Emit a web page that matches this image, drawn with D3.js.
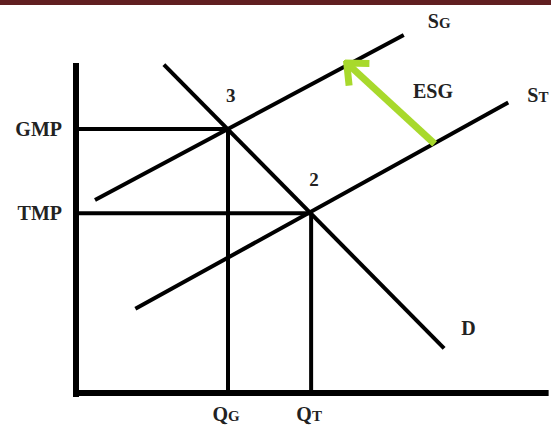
<!DOCTYPE html>
<html>
<head>
<meta charset="utf-8">
<script src="https://cdn.jsdelivr.net/npm/d3@7"></script>
<style>
  body { margin: 0; background: #fff; }
  text { font-family: "Liberation Serif", "DejaVu Serif", serif; font-weight: bold; fill: #222; }
</style>
</head>
<body>
<script>
// Price levels (government / target market price)
var priceLevels = [
  { label: "GMP", p: 80 },
  { label: "TMP", p: 54.5 }
];
// Quantity levels
var quantityLevels = [
  { main: "Q", sub: "G", q: 32 },
  { main: "Q", sub: "T", q: 49.5 }
];
// Curves: [q, p] end points
var curveSG = [[4, 58.5], [69, 108.5]];
var curveST = [[12.5, 25.5], [91, 88]];
var curveD  = [[18.5, 99.5], [77.5, 13.5]];
// Shift arrow from ST up to SG
var shiftESG = [[75.5, 75.5], [57, 100]];
// Equilibrium points
var points = [
  { label: "3", q: 32, p: 80 },
  { label: "2", q: 49.5, p: 54.5 }
];

var width = 551, height = 429;

var x = d3.scaleLinear().domain([0, 100]).range([76, 551]);
var y = d3.scaleLinear().domain([0, 100]).range([393, 63]);

var svg = d3.select("body").append("svg")
    .attr("width", width)
    .attr("height", height);

// top banner
svg.append("rect")
    .attr("x", 0).attr("y", 0)
    .attr("width", width).attr("height", 5)
    .attr("fill", "#611f21");

var line = d3.line()
    .x(function(d) { return x(d[0]); })
    .y(function(d) { return y(d[1]); });

// guide lines from the axes to the equilibria
var guides = svg.append("g")
    .attr("stroke", "#000")
    .attr("stroke-width", 4);

points.forEach(function(d) {
  guides.append("line")
      .attr("x1", x(0)).attr("x2", x(d.q))
      .attr("y1", y(d.p)).attr("y2", y(d.p));
  guides.append("line")
      .attr("x1", x(d.q)).attr("x2", x(d.q))
      .attr("y1", y(d.p)).attr("y2", y(0));
});

// supply and demand curves
[curveSG, curveST, curveD].forEach(function(c) {
  svg.append("path")
      .attr("d", line(c))
      .attr("fill", "none")
      .attr("stroke", "#000")
      .attr("stroke-width", 4);
});

// axes
svg.append("line")
    .attr("x1", x(0)).attr("x2", x(0))
    .attr("y1", y(100)).attr("y2", y(0) + 4)
    .attr("stroke", "#000").attr("stroke-width", 6);
svg.append("line")
    .attr("x1", x(0) - 3).attr("x2", x(99.5))
    .attr("y1", y(0)).attr("y2", y(0))
    .attr("stroke", "#000").attr("stroke-width", 6);

// shift arrow
svg.append("defs").append("marker")
    .attr("id", "head")
    .attr("markerUnits", "userSpaceOnUse")
    .attr("viewBox", "-30 -20 34 40")
    .attr("markerWidth", 34).attr("markerHeight", 40)
    .attr("refX", 0).attr("refY", 0)
    .attr("orient", "auto")
    .append("path")
    .attr("d", "M-17,-15 L0,0 L-17,15")
    .attr("fill", "none")
    .attr("stroke", "#a8d92c")
    .attr("stroke-width", 7);

svg.append("path")
    .attr("d", line(shiftESG))
    .attr("fill", "none")
    .attr("stroke", "#a8d92c")
    .attr("stroke-width", 7)
    .attr("marker-end", "url(#head)");

// labels
priceLevels.forEach(function(d) {
  svg.append("text")
      .attr("x", 62).attr("y", y(d.p) + 7)
      .attr("text-anchor", "end")
      .attr("font-size", 20)
      .text(d.label);
});

quantityLevels.forEach(function(d) {
  var t = svg.append("text")
      .attr("x", x(d.q) - 2).attr("y", 421)
      .attr("text-anchor", "middle")
      .attr("font-size", 20);
  t.append("tspan").text(d.main);
  t.append("tspan").attr("font-size", 15).text(d.sub);
});

points.forEach(function(d) {
  svg.append("text")
      .attr("x", x(d.q) - 2).attr("y", y(d.p) - 27)
      .attr("font-size", 19)
      .text(d.label);
});

function smallCapLabel(px, py, main, sub) {
  var t = svg.append("text")
      .attr("x", px).attr("y", py)
      .attr("font-size", 20);
  t.append("tspan").text(main);
  if (sub) t.append("tspan").attr("font-size", 15).text(sub);
}

smallCapLabel(x(curveSG[1][0]) + 24, 28, "S", "G");
smallCapLabel(x(curveST[1][0]) + 19, 102, "S", "T");
smallCapLabel(x(curveD[1][0]) + 17, 335, "D");
smallCapLabel(413, 98, "ESG");
</script>
</body>
</html>
